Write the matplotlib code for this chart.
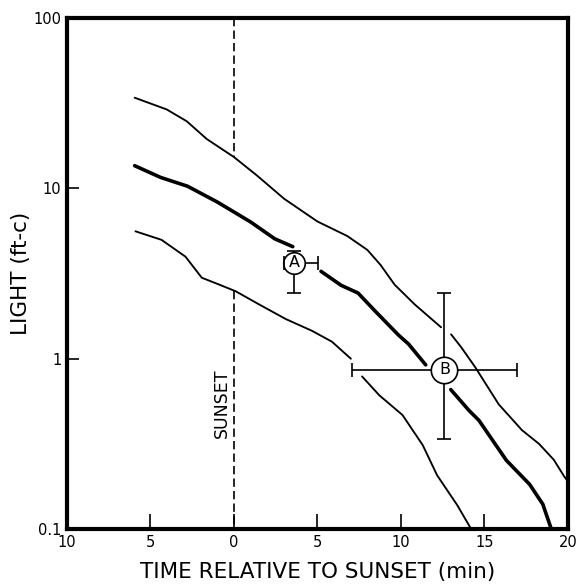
import numpy as np
import matplotlib
matplotlib.use("Agg")
import matplotlib.pyplot as plt

# ---- data ----
# upper thin envelope (two pieces, gap at B's vertical error bar)
upper1_t = [-5.95, -4.03, -2.83, -1.63, -0.01, 1.38, 3.00, 4.99, 6.79, 7.99, 8.77, 9.62, 10.83, 12.40]
upper1_L = [34.1, 29.1, 24.8, 19.5, 15.3, 11.9, 8.7, 6.4, 5.25, 4.35, 3.56, 2.72, 2.08, 1.53]
upper2_t = [13.0, 13.6, 14.45, 15.85, 17.24, 18.27, 19.15, 19.78, 20.0]
upper2_L = [1.39, 1.17, 0.89, 0.54, 0.381, 0.316, 0.255, 0.203, 0.19]

# median thick curve (three pieces, interrupted by A and B)
mid1_t = [-5.95, -4.39, -2.78, -0.98, 1.00, 2.44, 3.52]
mid1_L = [13.6, 11.6, 10.3, 8.3, 6.35, 5.06, 4.55]
mid2_t = [5.21, 6.41, 7.43, 8.46, 9.84, 10.45, 11.48]
mid2_L = [3.26, 2.70, 2.43, 1.90, 1.38, 1.22, 0.92]
mid3_t = [12.98, 14.07, 14.67, 16.31, 17.70, 18.49, 19.0]
mid3_L = [0.659, 0.497, 0.434, 0.253, 0.183, 0.140, 0.10]

# lower thin envelope (two pieces, gap at B's left cap)
lower1_t = [-5.90, -4.34, -2.90, -1.93, -0.91, 0.10, 1.48, 3.10, 4.66, 5.86, 7.00]
lower1_L = [5.6, 4.99, 3.97, 2.99, 2.73, 2.49, 2.09, 1.71, 1.46, 1.26, 1.00]
lower2_t = [7.67, 8.70, 10.09, 11.30, 12.16, 13.37, 14.20]
lower2_L = [0.787, 0.61, 0.467, 0.311, 0.207, 0.138, 0.10]

# observation points with asymmetric error bars
A_t, A_L = 3.61, 3.66
A_terr = [[0.64], [1.43]]
A_Lerr = [[1.22], [0.65]]
B_t, B_L = 12.6, 0.863
B_terr = [[5.53], [4.35]]
B_Lerr = [[0.524], [1.557]]

sunset_t = 0.0

xticks = [-10, -5, 0, 5, 10, 15, 20]
xticklabels = ["10", "5", "0", "5", "10", "15", "20"]
yticks = [0.1, 1, 10, 100]
yticklabels = ["0.1", "1", "10", "100"]

# ---- figure ----
fig = plt.figure(figsize=(5.79, 5.85), dpi=100)
ax = fig.add_axes([0.1157, 0.0957, 0.8653, 0.8733])
ax.set_yscale("log")
ax.set_xlim(-10, 20)
ax.set_ylim(0.1, 100)

thin = dict(color="black", lw=1.35, solid_capstyle="round", solid_joinstyle="round")
thick = dict(color="black", lw=2.6, solid_capstyle="round", solid_joinstyle="round")
for t, L in [(upper1_t, upper1_L), (upper2_t, upper2_L), (lower1_t, lower1_L), (lower2_t, lower2_L)]:
    ax.plot(t, L, **thin)
for t, L in [(mid1_t, mid1_L), (mid2_t, mid2_L), (mid3_t, mid3_L)]:
    ax.plot(t, L, **thick)

# sunset dashed line, interrupted between the envelopes
up_at0 = np.interp(sunset_t, upper1_t, upper1_L)
lo_at0 = np.interp(sunset_t, lower1_t, lower1_L)
ax.plot([sunset_t, sunset_t], [100, up_at0], color="black", lw=1.2, dashes=(5, 2.5))
ax.plot([sunset_t, sunset_t], [lo_at0, 0.1], color="black", lw=1.2, dashes=(5, 2.5))
ax.text(-0.75, 0.55, "SUNSET", rotation=90, ha="center", va="center", fontsize=12.5)

# error bars with circled letters
for (t, L, te, le, ms, lab, cs) in [(A_t, A_L, A_terr, A_Lerr, 15.5, "A", 5.0),
                                     (B_t, B_L, B_terr, B_Lerr, 19, "B", 5.0)]:
    eb = ax.errorbar(t, L, xerr=te, yerr=le, fmt="none", ecolor="black",
                     elinewidth=1.2, capsize=cs, capthick=1.2, zorder=3)
    ax.plot([t], [L], "o", ms=ms, mfc="white", mec="black", mew=1.2, zorder=4)
    for cl in eb[1]:
        cl.set_zorder(6)
    ax.text(t, L, lab, ha="center", va="center", fontsize=11.5, zorder=7)

# axes styling
for s in ax.spines.values():
    s.set_linewidth(3)
ax.set_xticks(xticks)
ax.set_xticklabels(xticklabels)
ax.set_yticks(yticks)
ax.set_yticklabels(yticklabels)
ax.yaxis.set_minor_locator(matplotlib.ticker.NullLocator())
ax.tick_params(axis="x", direction="in", length=11, width=1.2, labelsize=10.5, pad=4)
ax.tick_params(axis="y", direction="in", length=8.5, width=1.2, labelsize=10.5, pad=4)

ax.set_xlabel("TIME RELATIVE TO SUNSET (min)", fontsize=15.5, labelpad=9)
ax.set_ylabel("LIGHT (ft-c)", fontsize=15.5, labelpad=2)

fig.savefig("out.png", dpi=100)
